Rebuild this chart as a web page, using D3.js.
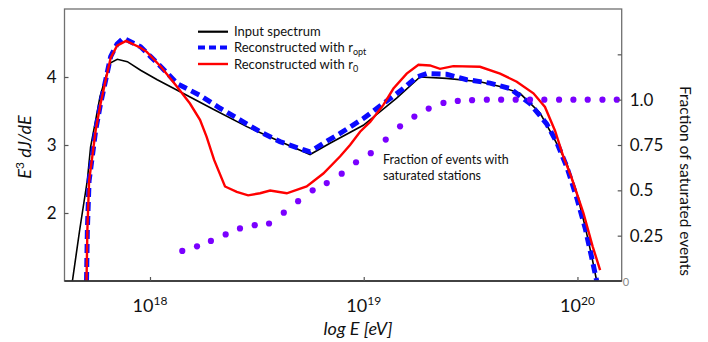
<!DOCTYPE html>
<html><head><meta charset="utf-8">
<script src="https://cdn.jsdelivr.net/npm/d3@7"></script>
<style>
html,body{margin:0;padding:0;background:#fff;}
svg text{font-family:Lato,"Open Sans",sans-serif;fill:#111;}
</style></head>
<body><svg id="c" width="708" height="342"></svg>
<script>
// ---- data (x = log10 E [eV]) ----
const inputLogE = [17.637,17.671,17.707,17.722,17.746,17.766,17.793,17.816,17.847,17.894,17.956,18.034,18.112,18.296,18.453,18.608,18.749,18.842,18.998,19.154,19.263,19.388,19.544,19.638,19.731,19.825,19.887,19.950,19.997,20.036,20.067,20.090];
const inputVal  = [1.0,1.75,2.485,2.97,3.37,3.71,4.0,4.21,4.26,4.225,4.10,3.96,3.83,3.525,3.27,3.05,2.86,3.025,3.29,3.69,4.00,3.98,3.93,3.86,3.76,3.47,3.12,2.73,2.29,1.80,1.36,1.0];

const optLogE = [17.703,17.707,17.715,17.730,17.746,17.769,17.793,17.816,17.846,17.875,17.956,18.003,18.058,18.128,18.234,18.328,18.421,18.515,18.608,18.717,18.749,18.811,18.889,18.998,19.092,19.185,19.248,19.295,19.388,19.482,19.591,19.685,19.778,19.856,19.903,19.950,19.997,20.036,20.067,20.090];
const optVal  = [1.0,1.75,2.47,2.83,3.22,3.61,3.96,4.30,4.485,4.57,4.445,4.30,4.13,3.90,3.73,3.54,3.37,3.195,3.05,2.93,2.90,3.025,3.17,3.39,3.61,3.83,4.00,4.05,4.04,3.96,3.91,3.83,3.61,3.31,3.04,2.68,2.22,1.78,1.34,1.0];

const r0LogE = [17.703,17.707,17.715,17.730,17.746,17.769,17.793,17.816,17.846,17.888,17.956,17.985,18.051,18.122,18.187,18.234,18.265,18.300,18.351,18.406,18.459,18.515,18.562,18.640,18.733,18.811,18.889,18.936,18.983,19.030,19.092,19.139,19.201,19.256,19.310,19.357,19.419,19.544,19.638,19.716,19.794,19.848,19.895,19.934,19.970,20.028,20.071,20.106];
const r0Val  = [1.0,1.75,2.47,2.83,3.22,3.61,3.96,4.28,4.46,4.53,4.43,4.37,4.15,3.875,3.61,3.37,3.12,2.78,2.39,2.31,2.26,2.29,2.33,2.29,2.39,2.58,2.83,3.0,3.195,3.34,3.59,3.83,4.05,4.18,4.17,4.12,4.16,4.15,4.05,3.93,3.76,3.56,3.21,2.83,2.54,2.0,1.51,1.16];

const fracLogE = [18.151,18.220,18.285,18.354,18.421,18.490,18.557,18.626,18.693,18.761,18.827,18.897,18.964,19.033,19.103,19.170,19.237,19.304,19.373,19.440,19.507,19.576,19.643,19.711,19.778,19.845,19.914,19.981,20.048,20.117,20.184];
const fracVal  = [0.166,0.191,0.221,0.257,0.290,0.308,0.317,0.377,0.440,0.500,0.540,0.592,0.655,0.705,0.780,0.853,0.907,0.951,0.982,0.993,0.997,1.0,1.0,1.0,1.0,1.0,1.0,1.0,1.0,1.0,1.0];

const xTicks = [18,19,20];
const yTicks = [2,3,4];
const fracTicks = [0.25,0.5,0.75,1.0,1.25];
const fracTickLabels = ["0.25","0.5","0.75","1.0",""];
const legendLabels = [["Input spectrum",""],["Reconstructed with r","opt"],["Reconstructed with r","0"]];
const noteLines = ["Fraction of events with","saturated stations"];

// ---- layout ----
const L=64.5, R=621.7, T=9, B=281;
const svg = d3.select("#c");
const x = d3.scaleLinear().domain([17.6,20.207]).range([L,R]);
const y = d3.scaleLinear().domain([1,5]).range([B,T]);
const yR = d3.scaleLinear().domain([0,1.5]).range([B,T]);

svg.append("defs").append("clipPath").attr("id","clip").append("rect")
  .attr("x",L).attr("y",T).attr("width",R-L).attr("height",B-T);

const g = svg.append("g").attr("clip-path","url(#clip)");
const line = d3.line().x(d=>x(d[0])).y(d=>y(d[1]));
const zip = (a,b)=>a.map((v,i)=>[v,b[i]]);

g.append("path").attr("d",line(zip(inputLogE,inputVal)))
  .attr("fill","none").attr("stroke","#000").attr("stroke-width",1.6);
g.append("path").attr("d",line(zip(optLogE,optVal)))
  .attr("fill","none").attr("stroke","#0a0aff").attr("stroke-width",5).attr("stroke-dasharray","9,5");
g.append("path").attr("d",line(zip(r0LogE,r0Val)))
  .attr("fill","none").attr("stroke","#ff0000").attr("stroke-width",2.4);
g.selectAll("circle.f").data(zip(fracLogE,fracVal)).enter().append("circle")
  .attr("cx",d=>x(d[0])).attr("cy",d=>yR(d[1])).attr("r",3.1).attr("fill","#7a00ff");

// frame
svg.append("rect").attr("x",L).attr("y",T).attr("width",R-L).attr("height",B-T)
  .attr("fill","none").attr("stroke","#707070").attr("stroke-width",1.3);
svg.append("line").attr("x1",L).attr("x2",R).attr("y1",B).attr("y2",B).attr("stroke","#222").attr("stroke-width",1.4);

// axes
const axL = svg.append("g").attr("transform",`translate(${L},0)`)
  .call(d3.axisLeft(y).tickValues(yTicks).tickSize(-4).tickPadding(8).tickFormat(d3.format("d")));
axL.selectAll("text").style("font-size","17px");
const axR = svg.append("g").attr("transform",`translate(${R},0)`)
  .call(d3.axisRight(yR).tickValues(fracTicks).tickSize(-4).tickPadding(8).tickFormat((d,i)=>fracTickLabels[i]));
axR.selectAll("text").style("font-size","17px");
const axB = svg.append("g").attr("transform",`translate(0,${B})`)
  .call(d3.axisBottom(x).tickValues(xTicks).tickSize(-4).tickFormat(""));
[axL,axR,axB].forEach(a=>{a.select(".domain").remove(); a.selectAll("line").attr("stroke","#555").attr("stroke-width",1.2);});

// bottom tick labels 10^n
xTicks.forEach(t=>{
  const tx = svg.append("text").attr("x",x(t)).attr("y",312).attr("text-anchor","middle").style("font-size","18px");
  tx.append("tspan").text("10");
  tx.append("tspan").attr("dy",-7).style("font-size","12px").text(String(t));
});
svg.append("text").attr("x",R+1).attr("y",B+5).style("font-size","11px").style("fill","#888").text("0");

// axis titles
svg.append("text").attr("x",358).attr("y",335).attr("text-anchor","middle")
  .style("font-size","18px").style("font-style","italic").text("log E [eV]");
const yl = svg.append("text").attr("transform","translate(31,147) rotate(-90)").attr("text-anchor","middle")
  .style("font-size","18px").style("font-style","italic");
yl.append("tspan").text("E");
yl.append("tspan").attr("dy",-7).style("font-size","12px").style("font-style","normal").text("3");
yl.append("tspan").attr("dy",7).text(" dJ/dE");
svg.append("text").attr("transform","translate(680,181) rotate(90)").attr("text-anchor","middle")
  .style("font-size","15.5px").text("Fraction of saturated events");

// legend
const legStyles = [
  {stroke:"#000",w:2.2,dash:null},
  {stroke:"#0a0aff",w:4,dash:"7,4"},
  {stroke:"#ff0000",w:2.4,dash:null}];
const legY = [31.7,47.5,64];
legendLabels.forEach((lab,i)=>{
  svg.append("line").attr("x1",198).attr("x2",228).attr("y1",legY[i]).attr("y2",legY[i])
    .attr("stroke",legStyles[i].stroke).attr("stroke-width",legStyles[i].w)
    .attr("stroke-dasharray",legStyles[i].dash);
  const t = svg.append("text").attr("x",234).attr("y",legY[i]+4.5).style("font-size","13px");
  t.append("tspan").text(lab[0]);
  if(lab[1]) t.append("tspan").attr("dy",3).style("font-size","9px").text(lab[1]);
});

// annotation
noteLines.forEach((s,i)=>{
  svg.append("text").attr("x",383).attr("y",164+i*16).style("font-size","12.5px").text(s);
});
</script></body></html>
